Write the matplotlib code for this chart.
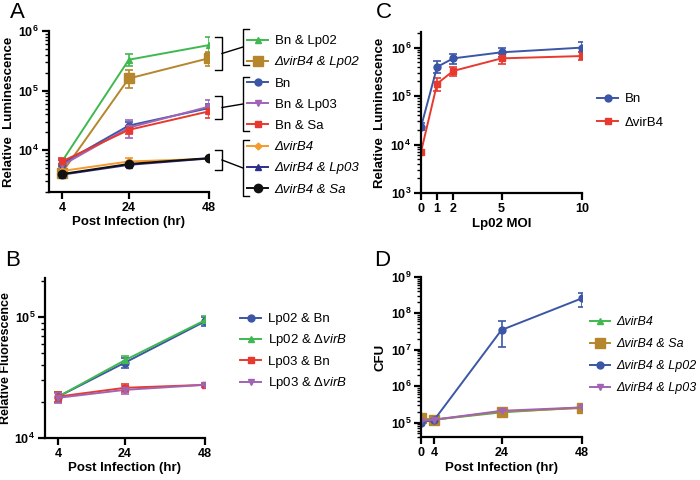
import matplotlib
matplotlib.use('Agg')
import matplotlib.pyplot as plt
from matplotlib.lines import Line2D
from matplotlib.ticker import LogLocator, NullFormatter, FuncFormatter, FixedLocator
import numpy as np

plt.rcParams['font.family'] = ['Liberation Sans', 'DejaVu Sans']
plt.rcParams['mathtext.fontset'] = 'custom'
plt.rcParams['mathtext.rm'] = 'Liberation Sans'
plt.rcParams['mathtext.bf'] = 'Liberation Sans:bold'
plt.rcParams['mathtext.it'] = 'Liberation Sans:italic'

GREEN = '#3fb94f'
BROWN = '#b5862c'
BLUE = '#3b56a6'
PURPLE = '#a064b5'
RED = '#e8392e'
ORANGE = '#f59a2b'
NAVY = '#2c2f8c'
BLACK = '#111111'

# ---- panel A : luminescence vs time
a_x = [4, 24, 48]
a_labels = ['Bn & Lp02', '\u0394virB4 & Lp02', 'Bn', 'Bn & Lp03', 'Bn & Sa',
            '\u0394virB4', '\u0394virB4 & Lp03', '\u0394virB4 & Sa']
a_italic = [False, True, False, False, False, True, True, True]
a_mean = [[6500, 3.3e5, 5.8e5],
          [4200, 1.6e5, 3.5e5],
          [6000, 2.6e4, 5.1e4],
          [5600, 2.4e4, 5.4e4],
          [6500, 2.2e4, 4.5e4],
          [4500, 6500, 7200],
          [3900, 5700, 7300],
          [4000, 5900, 7400]]
a_lo = [[5800, 2.6e5, 4.3e5],
        [3600, 1.1e5, 2.6e5],
        [5200, 2.2e4, 4.3e4],
        [4800, 1.6e4, 4.0e4],
        [5600, 1.9e4, 3.5e4],
        [4000, 5800, 6800],
        [3400, 5200, 7000],
        [3700, 5500, 7100]]
a_hi = [[7200, 4.1e5, 7.8e5],
        [4800, 2.2e5, 4.5e5],
        [6800, 3.0e4, 6.0e4],
        [7000, 3.2e4, 7.0e4],
        [7400, 2.6e4, 5.5e4],
        [5000, 7400, 7600],
        [4400, 6200, 7600],
        [4300, 6300, 7700]]
a_colors = [GREEN, BROWN, BLUE, PURPLE, RED, ORANGE, NAVY, BLACK]
a_markers = ['^', 's', 'o', 'v', 's', 'D', '^', 'o']
a_msize = [5, 7, 5, 5, 5, 3.5, 5, 6]

# ---- panel B : fluorescence vs time
b_x = [4, 24, 48]
b_labels = ['Lp02 & Bn', 'Lp02 & \u0394$\\mathit{virB}$', 'Lp03 & Bn',
            'Lp03 & \u0394$\\mathit{virB}$']
b_mean = [[2.2e4, 4.2e4, 9.2e4],
          [2.2e4, 4.4e4, 9.4e4],
          [2.2e4, 2.6e4, 2.75e4],
          [2.15e4, 2.5e4, 2.75e4]]
b_lo = [[2.0e4, 3.8e4, 8.5e4],
        [2.0e4, 4.0e4, 8.7e4],
        [2.0e4, 2.4e4, 2.65e4],
        [1.95e4, 2.3e4, 2.65e4]]
b_hi = [[2.4e4, 4.6e4, 1.0e5],
        [2.4e4, 4.8e4, 1.01e5],
        [2.4e4, 2.8e4, 2.85e4],
        [2.35e4, 2.7e4, 2.85e4]]
b_colors = [BLUE, GREEN, RED, PURPLE]
b_markers = ['o', '^', 's', 'v']

# ---- panel C : luminescence vs MOI
c_x = [0, 1, 2, 5, 10]
c_labels = ['Bn', '\u0394virB4']
c_mean = [[2.3e4, 4.0e5, 6.0e5, 8.0e5, 1.0e6],
          [7.0e3, 1.8e5, 3.3e5, 6.0e5, 6.7e5]]
c_lo = [[2.0e4, 3.0e5, 4.7e5, 6.5e5, 8.0e5],
        [6.4e3, 1.3e5, 2.6e5, 4.5e5, 5.5e5]]
c_hi = [[2.8e4, 5.2e5, 7.5e5, 9.8e5, 1.3e6],
        [7.8e3, 2.4e5, 4.0e5, 7.5e5, 8.0e5]]
c_colors = [BLUE, RED]
c_markers = ['o', 's']

# ---- panel D : CFU vs time
d_x = [0, 4, 24, 48]
d_labels = ['\u0394virB4', '\u0394virB4 & Sa', '\u0394virB4 & Lp02', '\u0394virB4 & Lp03']
d_mean = [[1.05e5, 1.2e5, 1.9e5, 2.6e5],
          [1.3e5, 1.2e5, 2.0e5, 2.5e5],
          [1.0e5, 1.2e5, 3.5e7, 2.6e8],
          [1.1e5, 1.2e5, 2.1e5, 2.6e5]]
d_lo = [[0.95e5, 1.1e5, 1.7e5, 2.4e5],
        [1.2e5, 1.1e5, 1.8e5, 2.3e5],
        [2.0e4, 1.1e5, 1.2e7, 1.5e8],
        [1.0e5, 1.1e5, 1.9e5, 2.4e5]]
d_hi = [[1.15e5, 1.3e5, 2.1e5, 2.8e5],
        [1.4e5, 1.3e5, 2.2e5, 2.7e5],
        [1.2e5, 1.3e5, 6.0e7, 3.7e8],
        [1.2e5, 1.3e5, 2.3e5, 2.8e5]]
d_colors = [GREEN, BROWN, BLUE, PURPLE]
d_markers = ['^', 's', 'o', 'v']
d_msize = [5, 6.5, 5, 5]


def pow10(v, pos):
    if v <= 0:
        return ''
    e = int(round(np.log10(v)))
    if abs(np.log10(v) - e) > 1e-6:
        return ''
    return r'$\mathbf{10^{%d}}$' % e


def style_axes(ax, ylim, xticks, xlim):
    ax.set_yscale('log')
    ax.set_ylim(*ylim)
    ax.set_xlim(*xlim)
    for s in ['top', 'right']:
        ax.spines[s].set_visible(False)
    for s in ['left', 'bottom']:
        ax.spines[s].set_linewidth(1.6)
    ax.xaxis.set_major_locator(FixedLocator(xticks))
    ax.set_xticklabels([str(t) for t in xticks], fontweight='bold', fontsize=9)
    ax.yaxis.set_major_locator(LogLocator(base=10, numticks=20))
    ax.yaxis.set_minor_locator(LogLocator(base=10, subs=np.arange(2, 10), numticks=20))
    ax.yaxis.set_major_formatter(FuncFormatter(pow10))
    ax.yaxis.set_minor_formatter(NullFormatter())
    ax.tick_params(axis='both', which='major', length=5, width=1.6, labelsize=9, pad=2)
    ax.tick_params(axis='y', which='minor', length=3, width=1.0)


def draw_series(ax, x, means, los, his, colors, markers, sizes=None):
    handles = []
    for i in range(len(means)):
        m = np.array(means[i])
        err = [m - np.array(los[i]), np.array(his[i]) - m]
        ms = sizes[i] if sizes else 5
        ax.errorbar(x, m, yerr=err, color=colors[i], marker=markers[i], ms=ms,
                    lw=1.4, elinewidth=1.2, capsize=3, capthick=1.2, clip_on=True)
        handles.append(Line2D([0], [0], color=colors[i], marker=markers[i], ms=ms, lw=1.4))
    return handles


def place_legend(ax, handles, labels, fx, fy, spacing, italic=None, size=9.5):
    leg = ax.legend(handles, labels, loc='upper left', bbox_to_anchor=(fx, fy),
                    bbox_transform=fig.transFigure, frameon=False, borderpad=0,
                    handlelength=1.6, handletextpad=0.5, labelspacing=spacing,
                    fontsize=size, borderaxespad=0)
    if italic:
        for t, it in zip(leg.get_texts(), italic):
            if it:
                t.set_fontstyle('italic')
    return leg


W, H = 700, 480
fig = plt.figure(figsize=(7, 4.8), dpi=100)


def px_axes(left, right, top, bottom):
    return fig.add_axes([left / W, 1 - bottom / H, (right - left) / W, (bottom - top) / H])


# panel A
axA = px_axes(48.6, 209, 31, 192)
hA = draw_series(axA, a_x, a_mean, a_lo, a_hi, a_colors, a_markers, a_msize)
style_axes(axA, (2000, 1e6), a_x, (0, 48))
axA.set_xlabel('Post Infection (hr)', fontweight='bold', fontsize=9.5, labelpad=2)
axA.set_ylabel('Relative  Luminescence', fontweight='bold', fontsize=9.5, labelpad=2)
place_legend(axA, hA, a_labels, 247 / W, 1 - 35 / H, 0.68, a_italic)

# brackets for panel A (figure pixel layout)
brackets = [((37, 70), (29, 65)), ((96, 119), (77, 131)), ((150, 170), (140, 196))]
for (r0, r1), (l0, l1) in brackets:
    xr, xl = 222, 243
    pts = [([215, xr, xr, 215], [r0, r0, r1, r1]),
           ([249, xl, xl, 249], [l0, l0, l1, l1]),
           ([xr, xl], [(r0 + r1) / 2, (l0 + l1) / 2])]
    for xs, ys in pts:
        fig.add_artist(Line2D(np.array(xs) / W, 1 - np.array(ys) / H, color='black',
                              lw=1.0, transform=fig.transFigure))

# panel C
axC = px_axes(421, 582, 32, 193)
hC = draw_series(axC, c_x, c_mean, c_lo, c_hi, c_colors, c_markers)
style_axes(axC, (1e3, 2.1e6), c_x, (0, 10))
axC.set_xlabel('Lp02 MOI', fontweight='bold', fontsize=9.5, labelpad=2)
axC.set_ylabel('Relative  Luminescence', fontweight='bold', fontsize=9.5, labelpad=3)
place_legend(axC, hC, c_labels, 597 / W, 1 - 93 / H, 0.85)

# panel B
axB = px_axes(45, 205, 278, 438)
hB = draw_series(axB, b_x, b_mean, b_lo, b_hi, b_colors, b_markers)
style_axes(axB, (1e4, 2.1e5), b_x, (0, 48))
axB.set_xlabel('Post Infection (hr)', fontweight='bold', fontsize=9.5, labelpad=2)
axB.set_ylabel('Relative Fluorescence', fontweight='bold', fontsize=9, labelpad=2)
place_legend(axB, hB, b_labels, 240 / W, 1 - 313 / H, 0.55)

# panel D
axD = px_axes(421, 582, 277, 437)
hD = draw_series(axD, d_x, d_mean, d_lo, d_hi, d_colors, d_markers, d_msize)
style_axes(axD, (4e4, 1e9), d_x, (0, 48))
axD.set_xlabel('Post Infection (hr)', fontweight='bold', fontsize=9.5, labelpad=2)
axD.set_ylabel('CFU', fontweight='bold', fontsize=9.5, labelpad=3)
place_legend(axD, hD, d_labels, 590 / W, 1 - 316 / H, 0.8, [True] * 4, size=9)

# panel letters
for letter, px, py in [('A', 10, 12), ('C', 376, 12), ('B', 5, 260), ('D', 374, 260)]:
    fig.text(px / W, 1 - py / H, letter, fontsize=16, va='center', ha='left')

fig.savefig('out.png', dpi=100)
